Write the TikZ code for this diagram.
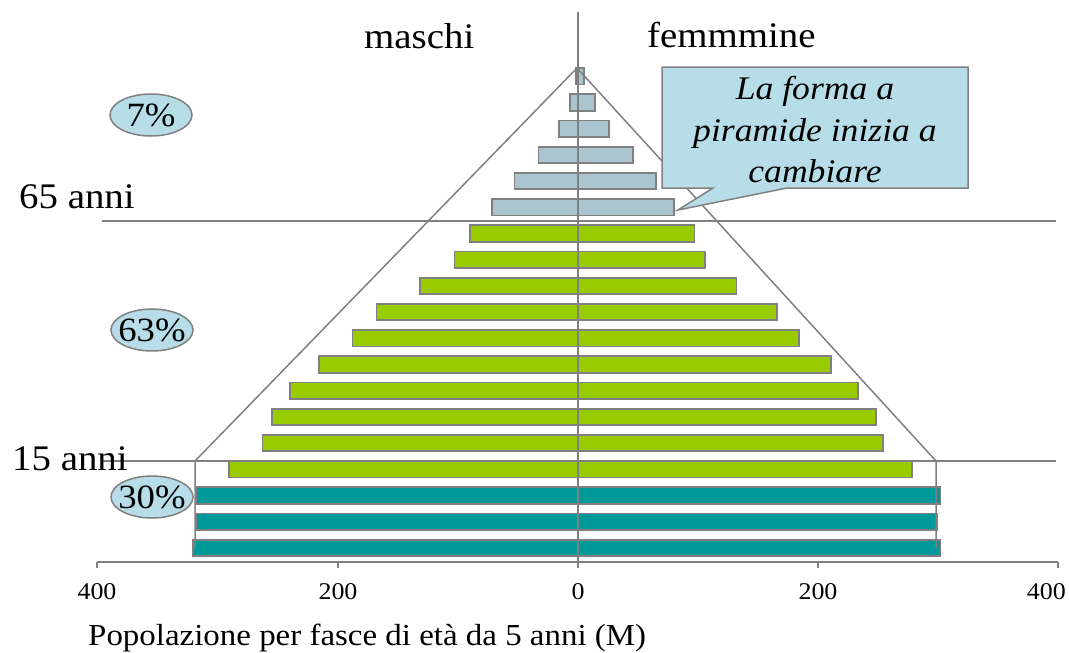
\documentclass[tikz,border=0pt]{standalone}
\usepackage{fontspec}
\setmainfont{Liberation Serif}[FakeStretch=1.08]
\usepackage{tikz}
\usetikzlibrary{shapes.geometric, positioning}

\definecolor{linegray}{RGB}{128,128,128}
\definecolor{oldcol}{RGB}{170,197,208}
\definecolor{workcol}{RGB}{153,204,0}
\definecolor{youngcol}{RGB}{0,153,153}
\definecolor{notecol}{RGB}{183,222,232}

\tikzset{
    bar/.style={draw=linegray, line width=1.8pt},
    guide/.style={draw=linegray, line width=1.5pt},
    pct/.style={ellipse, draw=linegray, line width=1.5pt, fill=notecol,
        minimum width=82pt, minimum height=42pt, inner sep=0pt},
    pcttxt/.style={font=\fontsize{34}{40}\selectfont},
    lbl/.style={font=\fontsize{36}{42}\selectfont, anchor=base west, inner sep=0pt},
    ticklbl/.style={font=\fontsize{24}{28}\selectfont, anchor=base, inner sep=0pt},
}

\newcommand{\cx}{578}
\newcommand{\ytop}{68}
\newcommand{\rowh}{26.2}

\begin{document}
\begin{tikzpicture}[x=1pt, y=-1pt]
    \useasboundingbox (0,0) rectangle (1069,653);

    % Bars: over 65, 15-64, under 15
    \foreach \m/\f [count=\i from 0] in {2/5, 7/14, 16/26, 33/46, 53/65, 72/80}
        \draw[bar, fill=oldcol] ({\cx-1.2*\m},{\ytop+\rowh*\i}) rectangle ({\cx+1.2*\f},{\ytop+\rowh*\i+16.5});
    \foreach \m/\f [count=\i from 6] in {90/97, 103/106, 132/132, 168/166, 188/184, 216/211, 240/233, 255/248, 263/254, 291/278}
        \draw[bar, fill=workcol] ({\cx-1.2*\m},{\ytop+\rowh*\i}) rectangle ({\cx+1.2*\f},{\ytop+\rowh*\i+16.5});
    \foreach \m/\f [count=\i from 16] in {318/302, 318/299, 321/302}
        \draw[bar, fill=youngcol] ({\cx-1.2*\m},{\ytop+\rowh*\i}) rectangle ({\cx+1.2*\f},{\ytop+\rowh*\i+16.5});

    % Axes
    \coordinate (top) at (\cx,12);
    \coordinate (origin) at (\cx,562);
    \coordinate (axl) at (97,562);
    \coordinate (axr) at (1058,562);
    \draw[guide] (top) -- (origin);
    \draw[guide] (axl) -- (axr);
    \foreach \x/\v in {97/400, 338/200, 578/0, 818/200} {
        \draw[guide] (\x,562) -- (\x,568);
        \node[ticklbl] (tick\x) at (\x,599) {\v};
    }
    \draw[guide] (1058,562) -- (1058,568);
    \node[ticklbl, anchor=base east] (tick1058) at (1066,599) {400};
    \node[font=\fontsize{30.5}{36}\selectfont, anchor=base west, inner sep=0pt] (title) at (88,645)
        {Popolazione per fasce di età da 5 anni (M)};

    % Age limits
    \coordinate (old l) at (102,221);
    \coordinate (old r) at (1056,221);
    \coordinate (young l) at (102,461);
    \coordinate (young r) at (1056,461);
    \draw[guide] (old l) -- (old r);
    \draw[guide] (young l) -- (young r);

    % Pyramid outline
    \coordinate (apex) at (577,68);
    \coordinate (base l) at (195,461);
    \coordinate (base r) at (936,461);
    \coordinate (foot l) at (195,548);
    \coordinate (foot r) at (936,548);
    \draw[guide] (foot l) -- (base l) -- (apex) -- (base r) -- (foot r);

    % Labels
    \node[lbl] (maschi) at (364,48) {maschi};
    \node[lbl] (femmine) at (647,47) {femmmine};
    \node[lbl] (old) at (19,208) {65 anni};
    \node[lbl] (young) at (12,470) {15 anni};

    \node[pct, label={[pcttxt]center:7\%}] (p7) at (151,115) {};
    \node[pct, label={[pcttxt]center:63\%}] (p63) at (152,330) {};
    \node[pct, label={[pcttxt]center:30\%}] (p30) at (152,497) {};

    % Callout
    \coordinate (tip) at (678,210);
    \draw[guide, fill=notecol] (662,67) -- (968,67) -- (968,188) -- (787,188) -- (tip) -- (713,188) -- (662,188) -- cycle;
    \node[font=\fontsize{33}{41.5}\selectfont\itshape, align=center, inner sep=0pt] (note) at (815,130)
        {La forma a\\piramide inizia a\\cambiare};
\end{tikzpicture}
\end{document}
